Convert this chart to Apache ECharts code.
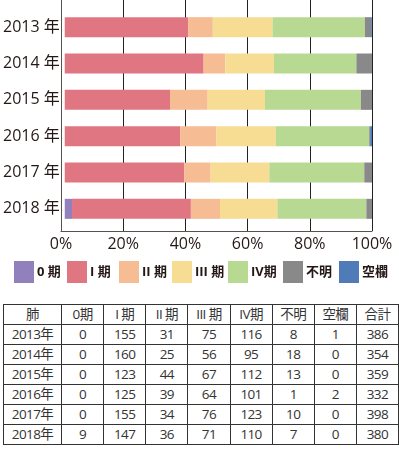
<!DOCTYPE html>
<html>
<head>
<meta charset="utf-8">
<script src="https://cdn.jsdelivr.net/npm/echarts@6/dist/echarts.min.js"></script>
<style>
  body { margin: 0; background: #fff; }
  #chart { position: absolute; left: 0; top: 0; width: 399px; height: 300px; }
  #tbl {
    position: absolute; left: 3px; top: 304px; width: 396px;
    border-collapse: collapse; table-layout: fixed;
    font-family: "Open Sans", "Noto Sans CJK JP", sans-serif; font-size: 13.5px; color: #333;
    letter-spacing: -0.6px;
  }
  #tbl td { border: 1px solid #333; height: 19px; padding: 0; text-align: center; line-height: 19px; }
</style>
</head>
<body>
<div id="chart"></div>
<table id="tbl"></table>
<script>
// データ
const years = ['2013', '2014', '2015', '2016', '2017', '2018']
const stageNames = ['0 期', 'I 期', 'II 期', 'III 期', 'IV期', '不明', '空欄']
const tableHeader = ['肺', '0期', 'I 期', 'II 期', 'III 期', 'IV期', '不明', '空欄', '合計']
const stage0 = [0, 0, 0, 0, 0, 9]
const stage1 = [155, 160, 123, 125, 155, 147]
const stage2 = [31, 25, 44, 39, 34, 36]
const stage3 = [75, 56, 67, 64, 76, 71]
const stage4 = [116, 95, 112, 101, 123, 110]
const unknown = [8, 18, 13, 1, 10, 7]
const blank = [1, 0, 0, 2, 0, 0]
const totals = [386, 354, 359, 332, 398, 380]
const colors = ['#9180bb', '#e07682', '#f6bc93', '#f6dd93', '#b7d992', '#898989', '#4f7bb8']

const allStages = [stage0, stage1, stage2, stage3, stage4, unknown, blank]

const font = '"Open Sans", "Noto Sans CJK JP", sans-serif'
const legendLeft = [14, 67, 119, 172, 228, 283, 339]

let myChart = echarts.init(document.getElementById('chart'))

const series = allStages.map((arr, i) => ({
  name: stageNames[i],
  type: 'bar',
  stack: 'all',
  xAxisIndex: 1,
  yAxisIndex: 1,
  barWidth: 20,
  itemStyle: { color: colors[i] },
  data: arr.map((v, j) => v / totals[j] * 100)
}))

// 凡例は1項目ずつ配置
const legends = stageNames.map((name, i) => ({
  left: legendLeft[i],
  top: 261,
  icon: 'rect',
  itemWidth: 20,
  itemHeight: 22,
  padding: 0,
  textStyle: { fontSize: 13, fontWeight: 'bold', color: '#231815', padding: [0, 0, 0, -2] },
  data: [name]
}))

myChart.setOption({
  animation: false,
  textStyle: { fontFamily: font },
  legend: legends,
  grid: [
    // 罫線用
    { left: 61, width: 311, top: 0, height: 231 },
    // 棒グラフ用
    { left: 61, width: 311, top: 9, height: 218 }
  ],
  xAxis: [
    {
      gridIndex: 0, type: 'value', min: 0, max: 100, interval: 20,
      axisLine: { show: true, lineStyle: { color: '#5a5050', width: 1 } },
      axisTick: { show: false },
      splitLine: { show: true, lineStyle: { color: '#222', width: 1 } },
      axisLabel: { formatter: '{value}%', fontSize: 16, color: '#231815', margin: 5 }
    },
    {
      gridIndex: 1, type: 'value', min: 0, max: 100,
      show: false
    }
  ],
  yAxis: [
    {
      gridIndex: 0, type: 'value', min: 0, max: 1,
      axisLine: { show: true, lineStyle: { color: '#5a5050', width: 1 } },
      axisTick: { show: false }, axisLabel: { show: false }, splitLine: { show: false }
    },
    {
      gridIndex: 1, type: 'category', inverse: true,
      data: years.map(y => y + ' 年'),
      axisLine: { show: false }, axisTick: { show: false }, splitLine: { show: false },
      axisLabel: { fontSize: 16, color: '#231815', margin: 5 }
    }
  ],
  series: series
})

// 表
const tbl = document.getElementById('tbl')
let html = '<colgroup><col style="width:58px">' + '<col>'.repeat(8) + '</colgroup>'
html += '<tr>' + tableHeader.map(h => '<td>' + h + '</td>').join('') + '</tr>'
years.forEach((y, j) => {
  html += '<tr><td>' + y + '年</td>' + allStages.map(a => '<td>' + a[j] + '</td>').join('') + '<td>' + totals[j] + '</td></tr>'
})
tbl.innerHTML = html
</script>
</body>
</html>
